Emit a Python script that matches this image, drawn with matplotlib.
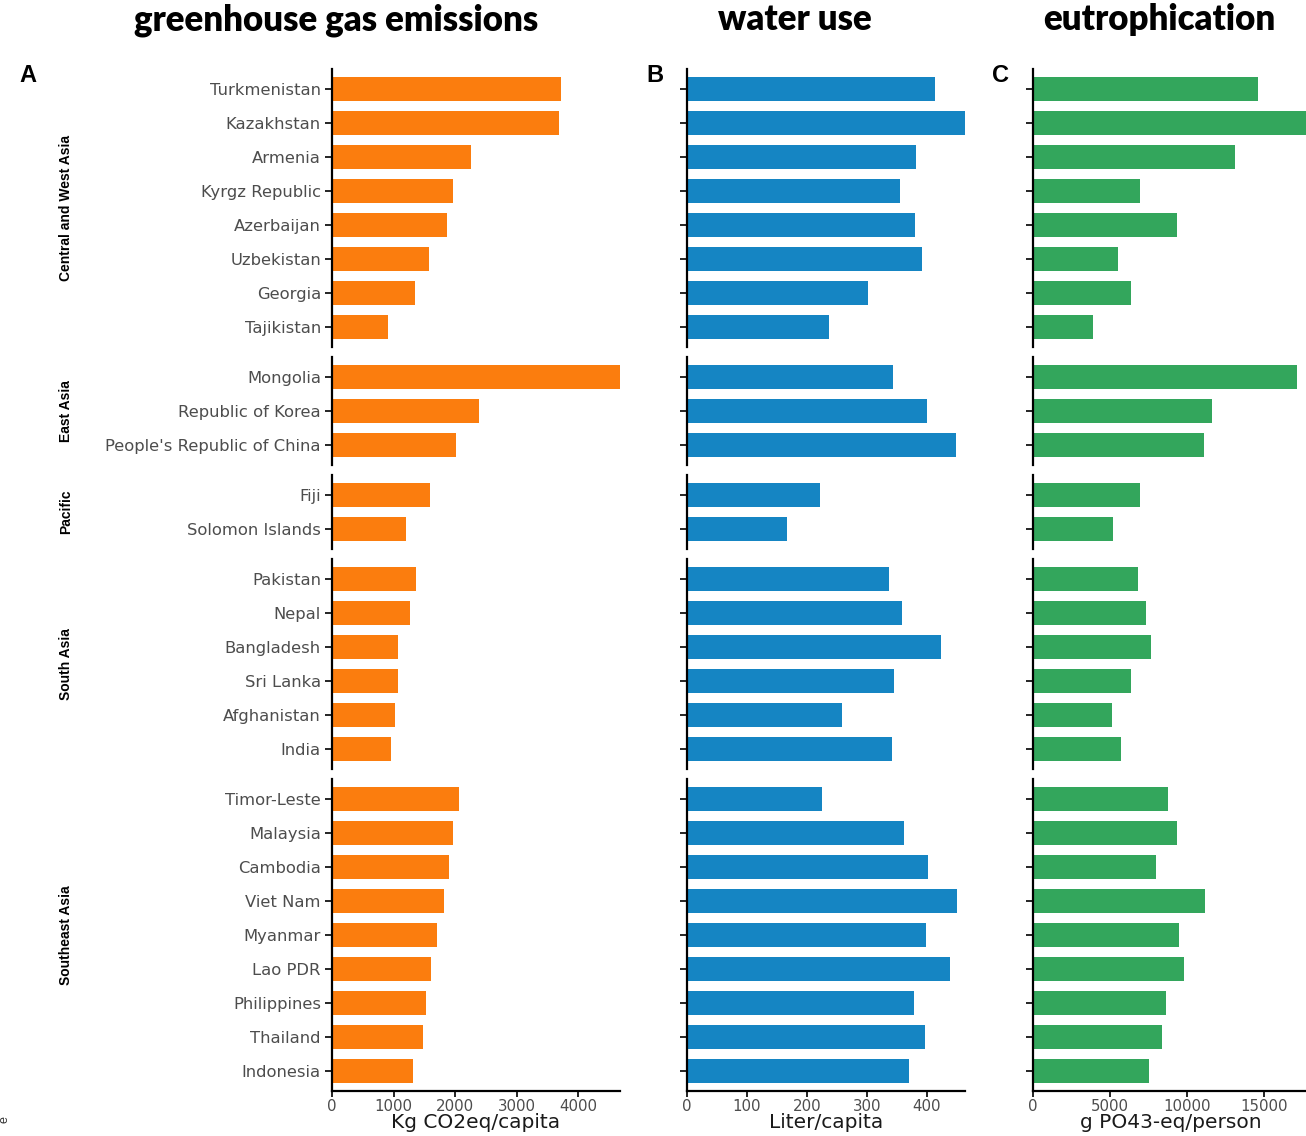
import matplotlib.pyplot as plt

# per-capita footprints by country, grouped by region
regions = ["Central and West Asia", "East Asia", "Pacific", "South Asia", "Southeast Asia"]
region_sizes = [8, 3, 2, 6, 9]

countries = [
    "Turkmenistan", "Kazakhstan", "Armenia", "Kyrgz Republic", "Azerbaijan",
    "Uzbekistan", "Georgia", "Tajikistan",
    "Mongolia", "Republic of Korea", "People's Republic of China",
    "Fiji", "Solomon Islands",
    "Pakistan", "Nepal", "Bangladesh", "Sri Lanka", "Afghanistan", "India",
    "Timor-Leste", "Malaysia", "Cambodia", "Viet Nam", "Myanmar", "Lao PDR",
    "Philippines", "Thailand", "Indonesia",
]

ghg = [3724, 3691, 2260, 1967, 1870, 1577, 1350, 910,
       4683, 2390, 2016,
       1593, 1203,
       1366, 1268, 1073, 1073, 1024, 959,
       2065, 1967, 1902, 1821, 1707, 1610, 1528, 1480, 1317]

water = [413, 463, 382, 355, 380, 392, 302, 237,
         343, 400, 448,
         222, 167,
         337, 358, 423, 345, 258, 342,
         225, 362, 402, 450, 398, 438, 378, 397, 370]

eutro = [14600, 17900, 13100, 6950, 9350, 5520, 6360, 3900,
         17140, 11620, 11100,
         6950, 5200,
         6820, 7340, 7660, 6360, 5130, 5710,
         8770, 9350, 7990, 11170, 9480, 9800, 8640, 8380, 7530]

ghg_ticks = [0, 1000, 2000, 3000, 4000]
water_ticks = [0, 100, 200, 300, 400]
eutro_ticks = [0, 5000, 10000, 15000]

W, H = 1306, 1136
fig = plt.figure(figsize=(W / 100, H / 100), dpi=100)


def box(left, top, width, height):
    return [left / W, 1 - (top + height) / H, width / W, height / H]


row_px = 34.0
gap_px = 9.2
top0 = 68.6

panels = [
    # values, colour, left px, px per unit, ticks, x label, title, title x, letter, letter x
    (ghg, "#fb7d0e", 332, 0.0615, ghg_ticks, "Kg CO2eq/capita",
     "greenhouse gas emissions", 336, "A", 28),
    (water, "#1585c3", 687, 0.60, water_ticks, "Liter/capita",
     "water use", 795, "B", 655),
    (eutro, "#33a65c", 1033, 0.0154, eutro_ticks, "g PO43-eq/person",
     "eutrophication", 1159, "C", 1000),
]

label_grey = "#4d4d4d"
body_font = "DejaVu Sans"

for vals, colour, left, scale, ticks, xlabel, title, tx, letter, lx in panels:
    xmax = max(vals)
    width = xmax * scale
    top = top0
    start = 0
    for g, (region, n) in enumerate(zip(regions, region_sizes)):
        height = (n + 0.2) * row_px
        ax = fig.add_axes(box(left, top, width, height))
        v = vals[start:start + n]
        names = countries[start:start + n]
        ax.barh(range(n), v, height=0.7, color=colour)
        ax.set_ylim(n - 0.4, -0.6)
        ax.set_xlim(0, xmax)
        for s in ("top", "right"):
            ax.spines[s].set_visible(False)
        ax.spines["left"].set_linewidth(1.6)
        ax.spines["bottom"].set_linewidth(1.6)
        ax.set_yticks(range(n))
        if letter == "A":
            ax.set_yticklabels(names, fontsize=11.8, color=label_grey,
                               family=body_font)
        else:
            ax.set_yticklabels([])
        ax.tick_params(axis="y", length=5, width=1.2, color="black", pad=3)
        last = g == len(regions) - 1
        if last:
            ax.set_xticks(ticks)
            ax.set_xticklabels([str(t) for t in ticks], fontsize=10.8,
                               color=label_grey, family=body_font)
            ax.tick_params(axis="x", length=4, width=1.2, color="black", pad=1.5)
            ax.set_xlabel(xlabel, fontsize=14.5, family=body_font,
                          color="#1a1a1a", labelpad=-1)
        else:
            ax.set_xticks([])
            ax.spines["bottom"].set_visible(False)
        if letter == "A":
            fig.text(66 / W, 1 - (top + height / 2) / H, region, rotation=90,
                     ha="center", va="center", fontsize=10, fontweight="bold",
                     family="Liberation Sans")
        top += height + gap_px
        start += n

    fig.text(tx / W, 1 - 20 / H, title, ha="center", va="center",
             fontsize=25, fontweight="heavy", family="Lato")
    fig.text(lx / W, 1 - 76 / H, letter, ha="center", va="center",
             fontsize=17, fontweight="bold", family="Liberation Sans")

# small rotated fragment at the lower-left edge
fig.text(5 / W, 1 - 1120 / H, "e", rotation=90, ha="center", va="center",
         fontsize=9, color="#333333", family="Liberation Sans")

fig.savefig("out.png", dpi=100)
